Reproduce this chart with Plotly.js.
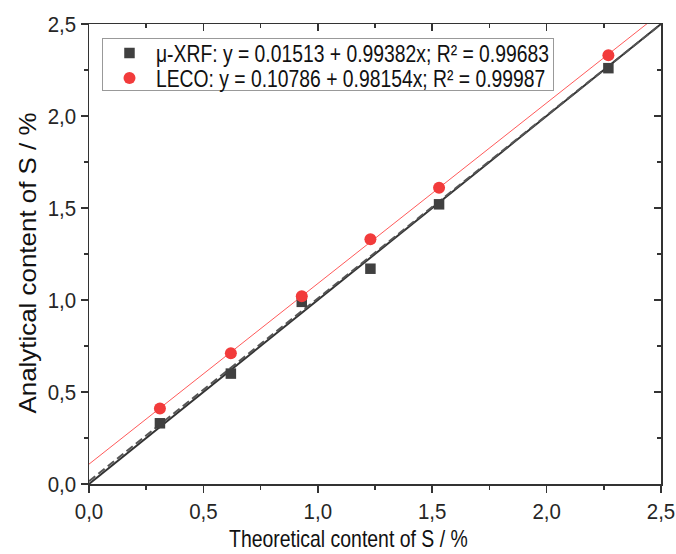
<!DOCTYPE html>
<html>
<head>
<meta charset="utf-8">
<script src="https://cdn.plot.ly/plotly-3.0.1.min.js"></script>
<style>body{margin:0;padding:0;background:#fff;} #chart{width:676px;height:554px;}</style>
</head>
<body>
<div id="chart"></div>
<script>
// Data
const theoretical = [0.31, 0.62, 0.93, 1.23, 1.53, 2.27];
const xrfValues   = [0.33, 0.60, 0.99, 1.17, 1.52, 2.26];
const lecoValues  = [0.41, 0.71, 1.02, 1.33, 1.61, 2.33];
const xrfFit  = {a: 0.01513, b: 0.99382, r2: "0.99683"};
const lecoFit = {a: 0.10786, b: 0.98154, r2: "0.99987"};
const lineX = [0, 2.5];
const tickVals = [0, 0.5, 1.0, 1.5, 2.0, 2.5];
const tickText = ["0,0", "0,5", "1,0", "1,5", "2,0", "2,5"];
const xTitle = 'Theoretical content of S / %';
const yTitle = 'Analytical content of S / %';

const font = "'Liberation Sans', Arial, Helvetica, sans-serif";

const traces = [
  { x: lineX, y: lineX, mode: 'lines', line: {color: '#333333', width: 2}, showlegend: false, hoverinfo: 'skip' },
  { x: lineX, y: lineX.map(v => xrfFit.a + xrfFit.b * v), mode: 'lines',
    line: {color: '#555555', width: 2, dash: '8px,4px'}, showlegend: false, hoverinfo: 'skip' },
  { x: lineX, y: lineX.map(v => lecoFit.a + lecoFit.b * v), mode: 'lines',
    line: {color: '#ff5a5a', width: 1}, showlegend: false, hoverinfo: 'skip' },
  { x: theoretical, y: xrfValues, mode: 'markers', type: 'scatter',
    name: 'μ-XRF: y = 0.01513 + 0.99382x; R² = ' + xrfFit.r2,
    marker: {symbol: 'square', size: 10.5, color: '#404040'} },
  { x: theoretical, y: lecoValues, mode: 'markers', type: 'scatter',
    name: 'LECO: y = 0.10786 + 0.98154x; R² = ' + lecoFit.r2,
    marker: {symbol: 'circle', size: 12, color: '#f23b3b'} },
  { x: [], y: [], xaxis: 'x2', yaxis: 'y2', showlegend: false }
];

const baseAxis = {
  range: [0, 2.5], tickvals: tickVals, ticktext: tickText,
  showgrid: false, zeroline: false, showline: true, linecolor: '#333333', linewidth: 1.5,
  ticks: 'outside', ticklen: 7, tickwidth: 1.5, tickcolor: '#333333',
  mirror: true, ticklabeloverflow: 'allow',
  minor: {dtick: 0.25, tick0: 0, ticks: 'outside', ticklen: 4, tickwidth: 1.5, tickcolor: '#333333'},
  tickfont: {family: font, size: 22, color: '#262626'}
};

const mirrorAxis = {
  range: [0, 2.5], tickvals: tickVals, showticklabels: false,
  showgrid: false, zeroline: false, showline: false,
  ticks: 'inside', ticklen: 7, tickwidth: 1.5, tickcolor: '#333333',
  minor: {dtick: 0.25, tick0: 0, ticks: 'inside', ticklen: 4, tickwidth: 1.5, tickcolor: '#333333'}
};

const layout = {
  width: 676, height: 554,
  margin: {l: 89, r: 15, t: 24, b: 70},
  paper_bgcolor: '#ffffff', plot_bgcolor: '#ffffff',
  font: {family: font},
  xaxis: Object.assign({}, baseAxis),
  yaxis: Object.assign({}, baseAxis),
  xaxis2: Object.assign({overlaying: 'x', side: 'top'}, mirrorAxis),
  yaxis2: Object.assign({overlaying: 'y', side: 'right'}, mirrorAxis),
  annotations: [
    {text: xTitle, xref: 'paper', yref: 'paper', x: 0.4545, y: -0.1185, xanchor: 'center', yanchor: 'middle',
     showarrow: false, font: {family: font, size: 24, color: '#111'}},
    {text: yTitle, xref: 'paper', yref: 'paper', x: -0.108, y: 0.48, xanchor: 'center', yanchor: 'middle',
     textangle: -90, showarrow: false, font: {family: font, size: 24, color: '#111'}}
  ],
  legend: {x: 0.0227, y: 0.97, xanchor: 'left', yanchor: 'top', itemwidth: 43,
    bgcolor: '#ffffff', bordercolor: '#999999', borderwidth: 1,
    font: {family: font, size: 24, color: '#111'}, tracegroupgap: 0},
  showlegend: true
};

// Adjust glyph widths to the reference's narrower sans face
const SQUEEZE = {tick: 0.93, xtitle: 0.81, ytitle: 1.08, legend: 0.805};
const LEGEND_ROW = 25;
const LEGEND_FIRST_SHIFT = -8;

function setLen(el, f) {
  el.removeAttribute('textLength');
  el.removeAttribute('lengthAdjust');
  const L = el.getComputedTextLength();
  el.setAttribute('textLength', (L * f).toFixed(2));
  el.setAttribute('lengthAdjust', 'spacingAndGlyphs');
  return L;
}

function squeeze(gd) {
  gd.querySelectorAll('g.xtick text, g.ytick text').forEach(el => setLen(el, SQUEEZE.tick));
  const ann = gd.querySelectorAll('g.annotation text.annotation-text');
  if (ann[0]) setLen(ann[0], SQUEEZE.xtitle);
  if (ann[1]) setLen(ann[1], SQUEEZE.ytitle);
  const leg = gd.querySelector('g.legend');
  if (leg && !leg.dataset.done) {
    leg.dataset.done = '1';
    let maxL = 0;
    let textX = 53;
    leg.querySelectorAll('text.legendtext').forEach(el => {
      const L = setLen(el, SQUEEZE.legend);
      maxL = Math.max(maxL, L * SQUEEZE.legend);
      textX = parseFloat(el.getAttribute('x')) || textX;
    });
    const items = leg.querySelectorAll('g.traces');
    let y0 = null;
    items.forEach((g, i) => {
      const m = /translate\(\s*([-\d.]+)[ ,]+([-\d.]+)/.exec(g.getAttribute('transform') || '');
      const tx = m ? parseFloat(m[1]) : 0;
      const ty = m ? parseFloat(m[2]) : 0;
      if (y0 === null) y0 = ty + LEGEND_FIRST_SHIFT;
      g.setAttribute('transform', `translate(${tx},${y0 + i * LEGEND_ROW})`);
    });
    const bg = leg.querySelector('rect.bg');
    if (bg) {
      bg.setAttribute('width', (textX + maxL + 5).toFixed(1));
      const h = (y0 !== null ? y0 : 14) + (items.length - 1) * LEGEND_ROW + 12;
      bg.setAttribute('height', h.toFixed(1));
    }
  }
}

const gd = document.getElementById('chart');
Plotly.newPlot(gd, traces, layout, {displayModeBar: false, staticPlot: true}).then(() => {
  squeeze(gd);
  gd.on('plotly_afterplot', () => squeeze(gd));
});
</script>
</body>
</html>
